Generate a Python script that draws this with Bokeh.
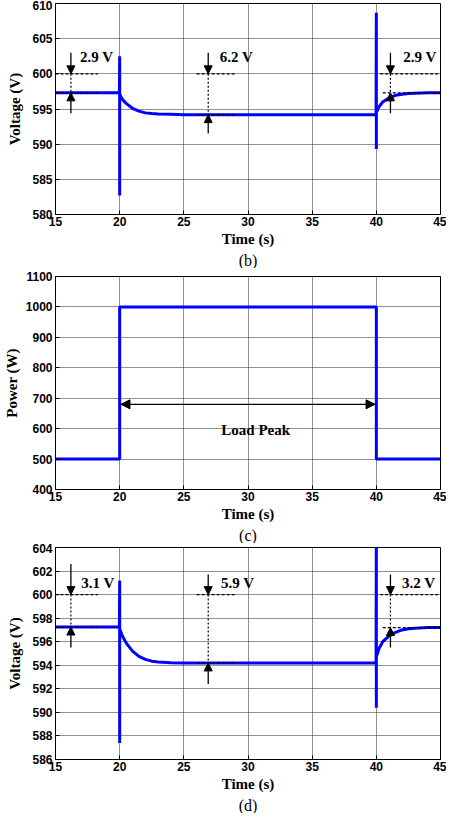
from bokeh.plotting import figure
from bokeh.models import Range1d, Label, Arrow, NormalHead, Title, FixedTicker
from bokeh.layouts import column
from bokeh.embed import file_html
from bokeh.resources import INLINE

# ---------------- data ----------------
x_ticks = [15, 20, 25, 30, 35, 40, 45]

# (b) DC bus voltage
t_b = [15, 19.98, 20.0, 20.0, 20.0, 20.2, 20.5, 21.0, 21.5, 22.0, 22.5, 23.0, 24.0, 25.0, 30.0, 35.0,
       39.98, 40.0, 40.0, 40.0, 40.2, 40.5, 41.0, 41.5, 42.0, 42.5, 43.0, 44.0, 45.0]
v_b = [597.3, 597.3, 602.5, 582.7, 597.1, 596.4, 595.8, 595.1, 594.7, 594.45, 594.35, 594.3, 594.25, 594.2, 594.2, 594.2,
       594.2, 608.7, 589.3, 594.5, 595.3, 596.0, 596.6, 596.95, 597.1, 597.2, 597.25, 597.3, 597.3]
y_ticks_b = [580, 585, 590, 595, 600, 605, 610]

# (c) load power
t_c = [15, 20, 20, 40, 40, 45]
p_c = [500, 500, 1000, 1000, 500, 500]
y_ticks_c = [400, 500, 600, 700, 800, 900, 1000, 1100]

# (d) DC bus voltage
t_d = [15, 19.98, 20.0, 20.0, 20.0, 20.2, 20.5, 21.0, 21.5, 22.0, 22.5, 23.0, 24.0, 25.0, 30.0, 35.0,
       39.98, 40.0, 40.0, 40.0, 40.2, 40.5, 41.0, 41.5, 42.0, 42.5, 43.0, 44.0, 45.0]
v_d = [597.25, 597.25, 601.2, 587.4, 597.1, 596.5, 595.9, 595.2, 594.75, 594.5, 594.35, 594.28, 594.22, 594.2, 594.2, 594.2,
       594.2, 606.0, 590.4, 594.7, 595.4, 596.0, 596.5, 596.8, 597.0, 597.1, 597.15, 597.2, 597.2]
y_ticks_d = [586, 588, 590, 592, 594, 596, 598, 600, 602, 604]

BLUE = "#0000FF"
TICK_FONT = "Liberation Sans"
SERIF = "Liberation Serif"


def make_fig(t, y, yticks, ylabel, caption, height, top, label_standoff=6):
    p = figure(width=446, height=height, output_backend="svg", toolbar_location=None,
               x_range=Range1d(15, 45), y_range=Range1d(yticks[0], yticks[-1]),
               min_border_left=50, min_border_right=6, min_border_top=top, min_border_bottom=0)
    p.line(t, y, line_color=BLUE, line_width=3)
    for ax in (p.xaxis[0], p.yaxis[0]):
        ax.major_label_text_font = TICK_FONT
        ax.major_label_text_font_style = "bold"
        ax.major_label_text_font_size = "12px"
        ax.major_label_text_color = "black"
        ax.major_tick_in = 4
        ax.major_tick_out = 0
        ax.minor_tick_line_color = None
        ax.axis_line_color = "black"
        ax.axis_line_width = 1
        ax.major_tick_line_color = "black"
        ax.axis_label_text_font = SERIF
        ax.axis_label_text_font_style = "bold"
        ax.axis_label_text_font_size = "15px"
        ax.axis_label_text_color = "black"
    p.xaxis.ticker = FixedTicker(ticks=x_ticks)
    p.yaxis.ticker = FixedTicker(ticks=yticks)
    p.xaxis.axis_label = "Time (s)"
    p.yaxis.axis_label = ylabel
    p.xaxis.major_label_standoff = 2
    p.xaxis.axis_label_standoff = 2
    p.yaxis.major_label_standoff = 3
    p.yaxis.axis_label_standoff = label_standoff
    p.grid.grid_line_color = "#222222"
    p.grid.grid_line_dash = "1 1"
    p.grid.grid_line_width = 1
    p.outline_line_color = "black"
    p.outline_line_width = 1
    p.background_fill_color = "white"
    p.border_fill_color = "white"
    p.add_layout(Title(text=caption, align="center", text_font=SERIF, text_font_size="16px",
                       text_font_style="normal", text_color="black", standoff=0, offset=0), "below")
    return p


def marker(p, x, top_y, level_hi, level_lo, bottom_y, x0, x1, x2, x3, text, tx, ty):
    # dashed reference lines
    p.line([x0, x1], [level_hi, level_hi], line_color="black", line_dash="3 2", line_width=1.2)
    p.line([x2, x3], [level_lo, level_lo], line_color="black", line_dash="3 2", line_width=1.2)
    # dotted vertical
    p.line([x, x], [level_hi, level_lo], line_color="black", line_dash="2 2", line_width=1.2)
    p.add_layout(Arrow(end=NormalHead(size=8, fill_color="black", line_color="black"),
                       x_start=x, y_start=top_y, x_end=x, y_end=level_hi, line_width=1.3, line_color="black"))
    p.add_layout(Arrow(end=NormalHead(size=8, fill_color="black", line_color="black"),
                       x_start=x, y_start=bottom_y, x_end=x, y_end=level_lo, line_width=1.3, line_color="black"))
    p.add_layout(Label(x=tx, y=ty, text=text, text_font=SERIF, text_font_style="bold",
                       text_font_size="15px", text_align="center", text_baseline="middle", text_color="black"))


# ---- (b)
pb = make_fig(t_b, v_b, y_ticks_b, "Voltage (V)", "(b)", 268, 3)
marker(pb, 16.2, 603.0, 600.0, 597.3, 594.4, 15.0, 18.3, 15.0, 18.3, "2.9 V", 18.2, 602.4)
marker(pb, 26.9, 603.0, 600.0, 594.2, 591.5, 26.0, 29.0, 26.0, 29.0, "6.2 V", 29.1, 602.4)
marker(pb, 41.1, 603.0, 600.0, 597.3, 594.4, 40.3, 45.0, 40.5, 45.0, "2.9 V", 43.4, 602.4)

# ---- (c)
pc = make_fig(t_c, p_c, y_ticks_c, "Power (W)", "(c)", 275, 8, label_standoff=3)
pc.add_layout(Arrow(start=NormalHead(size=9, fill_color="black", line_color="black"),
                    end=NormalHead(size=9, fill_color="black", line_color="black"),
                    x_start=20.1, y_start=680, x_end=39.9, y_end=680, line_width=1.3, line_color="black"))
pc.add_layout(Label(x=30.6, y=594, text="Load Peak", text_font=SERIF, text_font_style="bold",
                    text_font_size="15px", text_align="center", text_baseline="middle", text_color="black"))

# ---- (d)
pd_ = make_fig(t_d, v_d, y_ticks_d, "Voltage (V)", "(d)", 270, 4)
marker(pd_, 16.2, 602.6, 600.0, 597.25, 595.5, 15.0, 18.3, 15.0, 18.3, "3.1 V", 18.3, 601.0)
marker(pd_, 26.9, 601.7, 600.0, 594.2, 592.4, 26.0, 29.0, 26.0, 29.0, "5.9 V", 29.2, 601.0)
marker(pd_, 41.1, 601.7, 600.0, 597.2, 595.5, 40.3, 45.0, 40.5, 45.0, "3.2 V", 43.3, 601.0)

layout = column(pb, pc, pd_, spacing=0)
open("out.html", "w").write(file_html(layout, INLINE))
